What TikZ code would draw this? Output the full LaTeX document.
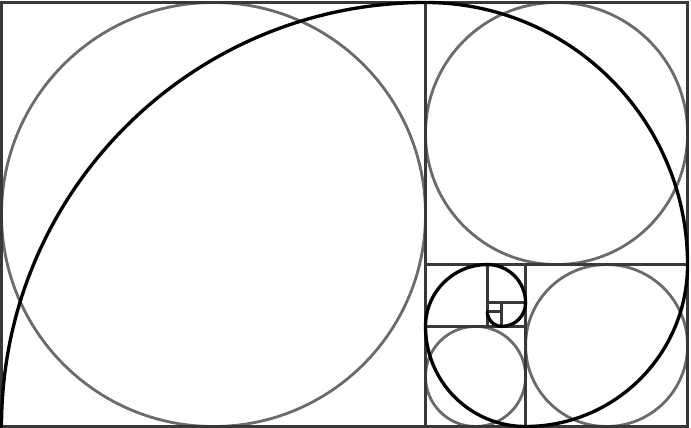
\documentclass[tikz,border=0pt]{standalone}
\usepackage{tikz}
\usetikzlibrary{calc}

\begin{document}
\begin{tikzpicture}[x=0.2mm,y=0.2mm]
    \tikzset{frame/.style={draw=black!78,line width=1.7pt},
             ring/.style={draw=black!58,line width=1.6pt},
             spiral/.style={draw=black,line width=1.9pt,line cap=round}};
    \useasboundingbox (-1.5,-1.5) rectangle (689.5,426.5);
	% circles in the four big squares
	\draw[ring] (212,212) circle (212);
	\draw[ring] (555.03,292.98) circle (131.03);
	\draw[ring] (605.08,80.98) circle (80.98);
	\draw[ring] (474.05,50.05) circle (50.05);
	% squares
	\draw[frame] (0,0) rectangle (686.05,424);
	\draw[frame] (424,0) -- (424,424);
	\draw[frame] (424,161.95) -- (686.05,161.95);
	\draw[frame] (524.1,0) -- (524.1,161.95);
	\draw[frame] (424,100.1) -- (524.1,100.1);
	\draw[frame] (485.86,100.1) -- (485.86,161.95);
	\draw[frame] (485.86,123.72) -- (524.1,123.72);
	\draw[frame] (500.47,100.1) -- (500.47,123.72);
	\draw[frame] (485.86,114.7) -- (500.47,114.7);
	% golden spiral
	\draw[spiral] (0,0) arc (180:90:424) arc (90:0:262.05) arc (0:-90:161.95)
	    arc (-90:-180:100.1) arc (180:90:61.86) arc (90:0:38.23)
	    arc (0:-90:23.63) arc (-90:-180:14.6);
\end{tikzpicture}
\end{document}
